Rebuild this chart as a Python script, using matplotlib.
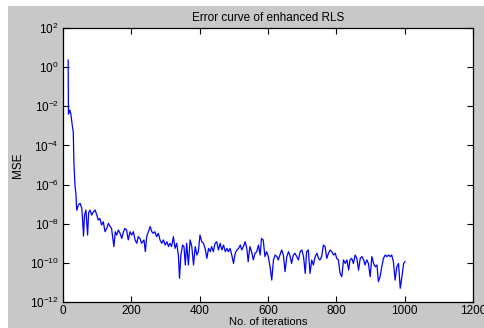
import matplotlib
matplotlib.use("Agg")
import matplotlib.pyplot as plt
from matplotlib.patches import Rectangle
from matplotlib.ticker import FixedLocator, FuncFormatter
import numpy as np

plt.rcParams['font.family'] = ['Liberation Sans', 'DejaVu Sans']
plt.rcParams['mathtext.default'] = 'regular'

# iteration index and log10(MSE)
iterations = [15, 16, 20, 23, 27, 30, 32, 35, 38, 40, 42, 45, 50, 55, 58, 60, 63, 67, 72, 75,
              79, 84, 89, 94, 99, 103, 108, 113, 118, 123, 128, 133, 138, 142, 149, 153, 157, 162,
              167, 172, 177, 181, 186, 191, 196, 201, 206, 211, 216, 220, 225, 230, 237, 241, 245,
              250, 255, 260, 264, 269, 274, 279, 284, 289, 294, 299, 304, 309, 313, 318, 323, 328,
              333, 338, 341, 345, 350, 354, 358, 362, 367, 372, 377, 382, 387, 392, 396, 401, 406,
              411, 416, 421, 426, 431, 435, 440, 445, 450, 455, 460, 465, 470, 475, 480, 484, 489,
              494, 499, 504, 509, 514, 519,
              523, 528, 533, 538, 542, 547, 552, 557, 562, 567, 572, 577, 581, 586, 591, 596, 601,
              606, 611, 616, 621, 626, 630, 635, 640, 645, 650, 655, 660, 665, 669, 674, 679, 684,
              689, 694, 699, 704, 709, 713, 718, 723, 728, 733, 738, 743, 748, 752, 757, 762, 767,
              772, 777, 782, 787, 792, 797, 801, 806, 811, 816, 821, 826, 831, 836, 840, 845, 850,
              855, 860, 865, 870, 875, 880, 884, 889, 894, 899, 904, 909, 914, 919, 923, 928, 933,
              938, 943, 948, 953, 958, 962, 967, 972, 977, 982, 987, 992, 997, 1001]
log_mse = [0.36, -2.40, -2.19, -2.40, -2.96, -3.30, -4.92, -6.02, -6.53, -7.30, -7.21, -7.04, -6.96,
           -7.21, -7.98, -8.63, -7.56, -7.30, -8.58, -7.44, -7.30, -7.56, -7.39, -7.30, -7.56,
           -7.81, -7.73, -8.07, -7.90, -8.41, -8.24, -7.98, -8.15, -8.24, -9.17, -8.41, -8.58,
           -8.32, -8.49, -8.75, -8.41, -8.24, -8.32, -8.83, -8.41, -8.58, -8.41, -8.83, -9.00,
           -8.66, -8.75, -9.00, -8.83, -9.43, -8.66, -8.41, -8.15, -8.41, -8.49, -8.41, -8.66,
           -8.49, -8.83, -9.00, -8.83, -9.09, -8.92, -9.17, -9.00, -9.17, -8.66, -9.26, -9.00,
           -9.68, -10.79, -9.60, -9.09, -9.17, -10.11, -9.00, -10.11, -8.83, -9.17, -10.11, -9.17,
           -9.60, -9.43, -8.58, -8.92, -9.00, -9.26, -9.77, -9.26, -9.43, -9.17, -9.43, -9.00,
           -8.92, -9.34, -9.00, -9.34, -9.09, -9.43, -9.26, -9.43, -9.26, -9.60, -10.03, -9.51,
           -9.34, -9.26, -9.09, -9.34, -9.17,
           -8.92, -9.26, -9.94, -9.17, -9.43, -9.85, -9.51, -9.43, -9.09, -9.60, -8.75, -8.83,
           -9.68, -9.43, -9.68, -10.20, -10.88, -9.85, -9.60, -9.68, -9.85, -9.60, -9.34, -9.60,
           -10.45, -9.68, -9.43, -9.68, -10.03, -9.60, -9.51, -9.68, -9.85, -9.43, -9.34, -9.68,
           -10.54, -9.43, -9.34, -10.54, -9.85, -10.11, -9.68, -9.51, -9.77, -9.85, -9.68, -9.09,
           -9.17, -9.77, -9.51, -9.34, -9.43, -9.60, -9.51, -9.77, -9.85, -10.54, -10.71, -9.85,
           -10.03, -9.85, -10.37, -9.85, -9.77, -10.03, -9.60, -9.77, -10.37, -9.77, -9.68, -9.85,
           -10.11, -9.85, -10.03, -10.71, -9.68, -10.03, -10.20, -10.11, -10.96, -10.71, -10.20,
           -9.77, -9.60, -9.68, -9.60, -9.68, -9.60, -9.94, -10.88, -10.20, -10.03, -11.30,
           -10.71, -10.03, -9.94, -10.45, -10.45]

x_ticks = [0, 200, 400, 600, 800, 1000, 1200]
y_tick_exp = [-12, -10, -8, -6, -4, -2, 0, 2]
title = "Error curve of enhanced RLS"
xlabel = "No. of iterations"
ylabel = "MSE"

n = min(len(iterations), len(log_mse))
it = np.array(iterations[:n], dtype=float)
mse = 10.0 ** np.array(log_mse[:n])

fig = plt.figure(figsize=(4.85, 3.28), dpi=100, facecolor='white')
fig.patches.append(Rectangle((8 / 485, 0), 1 - 8 / 485, 1 - 6 / 328,
                             transform=fig.transFigure, facecolor='#c8c8c8',
                             edgecolor='none', zorder=-10))

ax = fig.add_axes([63 / 485, 26 / 328, 410 / 485, 274 / 328])
ax.set_facecolor('white')
ax.plot(it, mse, color='#0000ff', linewidth=0.9)
ax.set_yscale('log')
ax.set_xlim(0, 1200)
ax.set_ylim(1e-12, 1e2)
ax.xaxis.set_major_locator(FixedLocator(x_ticks))
ax.yaxis.set_major_locator(FixedLocator([10.0 ** e for e in y_tick_exp]))
ax.yaxis.set_minor_locator(FixedLocator([]))
ax.yaxis.set_major_formatter(FuncFormatter(lambda v, p: r'$10^{%d}$' % int(round(np.log10(v)))))
ax.tick_params(direction='in', length=4, width=0.8, top=True, right=True,
               labelsize=8.5, pad=3, colors='black')
ax.tick_params(axis='x', pad=2)
for s in ax.spines.values():
    s.set_linewidth(0.9)
    s.set_color('black')

ax.set_title(title, fontsize=8.5, pad=5)
ax.set_xlabel(xlabel, fontsize=8, labelpad=0)
ax.set_ylabel(ylabel, fontsize=8.5, labelpad=4)

fig.savefig('out.png', dpi=100, facecolor=fig.get_facecolor())
